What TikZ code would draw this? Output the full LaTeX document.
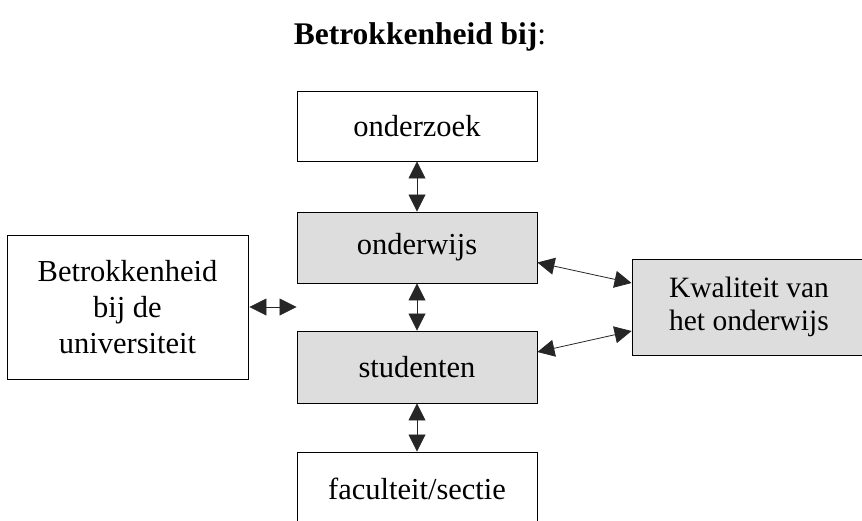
\documentclass[tikz,border=0pt]{standalone}
\usepackage{fontspec}
\setmainfont{Liberation Serif}
\usetikzlibrary{arrows.meta}
\definecolor{boxgray}{HTML}{DDDDDD}
\tikzset{
  box/.style={draw=black, line width=0.9pt, minimum width=240pt, align=center,
    inner sep=0pt, font=\fontsize{30.5}{36}\selectfont},
  shaded/.style={box, fill=boxgray},
  link/.style={line width=0.8pt, draw=black!85, {Triangle[length=17pt,width=17pt]}-{Triangle[length=17pt,width=17pt]}}
}
\begin{document}
\begin{tikzpicture}[x=1pt,y=-1pt]
\useasboundingbox (0,0) rectangle (862,520);
\node (title) at (420,37) {\fontsize{31.5}{36}\selectfont\textbf{Betrokkenheid bij}:};

\node[box, minimum height=70pt] (onderzoek) at (417,126) {onderzoek};
\node[shaded, minimum height=71pt] (onderwijs) at (417,247.5) {onderwijs};
\node[shaded, minimum height=72pt] (studenten) at (417,367) {studenten};
\node[box, minimum height=73pt] (faculteit) at (417,488.5) {faculteit/sectie};

\node[box, minimum width=241pt, minimum height=144pt] (univ) at (127.5,307)
  {Betrokkenheid\\bij de\\universiteit};
\node[shaded, minimum width=234pt, minimum height=96pt, font=\fontsize{29.5}{33.5}\selectfont] (kwal) at (749,307)
  {Kwaliteit van\\het onderwijs};

\draw[link] (onderzoek.south) -- (onderwijs.north);
\draw[link] (onderwijs.south) -- (studenten.north);
\draw[link] (studenten.south) -- (faculteit.north);
\draw[link] ([xshift=1pt]univ.east) -- (univ.east -| studenten.west);
\draw[link] ([yshift=-15pt]onderwijs.east) -- ([yshift=24pt]kwal.west);
\draw[link] ([yshift=15pt]studenten.east) -- ([yshift=-24pt]kwal.west);
\end{tikzpicture}
\end{document}
